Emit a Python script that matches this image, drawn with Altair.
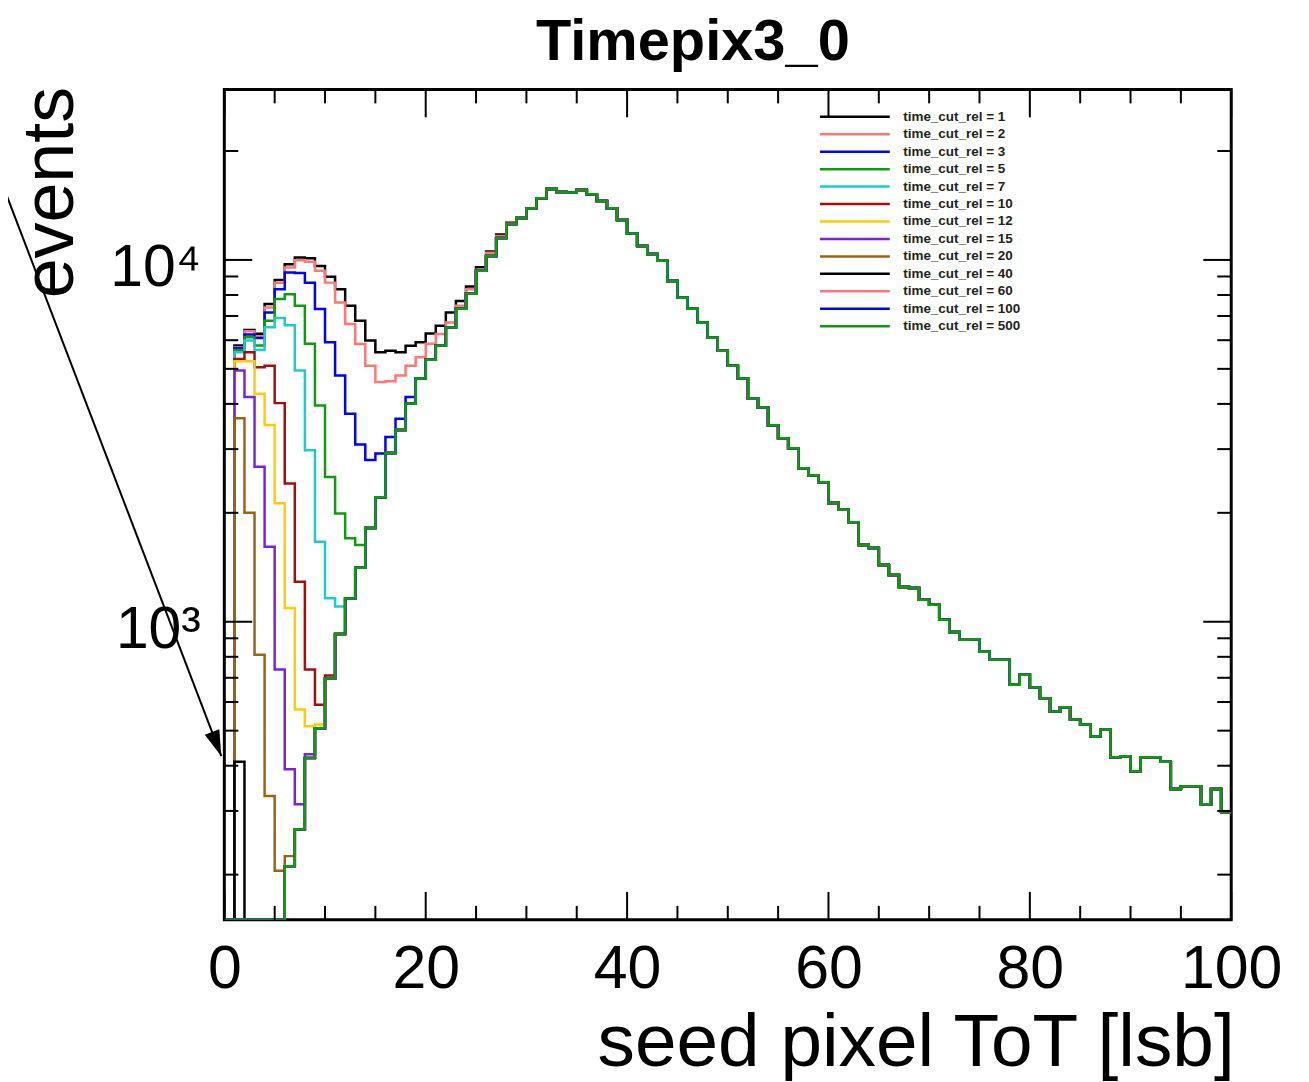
import altair as alt
import pandas as pd

FONT = "Liberation Sans"
W, H = 1010, 833

cut_labels = ["1", "2", "3", "5", "7", "10", "12", "15", "20", "40", "60", "100", "500"]
line_colors = ["#000000", "#ff7777", "#0000ff", "#109a10", "#1ccccc", "#a01010",
               "#ffcc00", "#7a22e0", "#9a6410", "#000000", "#ff7777", "#0000ff", "#109a10"]

# seed pixel ToT bins 0..99 (1 lsb wide) for the full spectrum (time_cut_rel = 500)
base_counts = [
    0, 0, 0, 0, 0, 0, 211, 267, 420, 508,
    697, 925, 1160, 1409, 1815, 2208, 2925, 3388, 4009, 4700,
    5300, 5800, 6500, 7330, 8060, 9330, 10260, 11500, 12560, 13060,
    13900, 14800, 15700, 15400, 15350, 15600, 15200, 14550, 13900, 12900,
    11830, 10930, 10380, 9940, 8750, 7860, 7330, 6700, 6090, 5610,
    5100, 4700, 4140, 3910, 3490, 3215, 3015, 2655, 2540, 2430,
    2130, 2040, 1885, 1630, 1600, 1436, 1347, 1248, 1240, 1150,
    1114, 1012, 937, 891, 895, 826, 785, 785, 670, 714,
    658, 615, 565, 580, 537, 520, 482, 504, 422, 425,
    386, 422, 422, 410, 345, 351, 351, 313, 345, 298,
]

# low-ToT bins (from bin 0) where a cut differs from the full spectrum
cut1_low = [0, 5800, 6400, 6250, 7550, 8800, 9730, 10150, 10100, 9625, 8980, 8300, 7465,
            6795, 5985, 5560, 5610, 5560, 5795, 5920, 6265, 6580, 7160, 7700, 8450, 9550,
            10550, 11750, 12700]
cut2_low = [0, 5735, 6350, 6150, 7390, 8650, 9525, 9980, 9890, 9330, 8655, 7625, 6655,
            5860, 5100, 4600, 4620, 4790, 5100, 5380, 5865, 6240, 6720, 7465, 8300, 9400,
            10470, 11650, 12680]
cut3_low = [0, 5710, 6220, 6080, 7160, 8300, 9225, 9200, 8650, 7315, 5920, 4790, 3760,
            3090, 2800, 2918, 3240, 3640, 4180]
cut5_low = [0, 5640, 6110, 5800, 6795, 7795, 8040, 7465, 5866, 3960, 2513, 1991, 1700, 1630]
cut7_low = [0, 5560, 5985, 5640, 6520, 6905, 6600, 4950, 2977, 1665, 1161, 1102]
cut10_low = [0, 5320, 5560, 5050, 5100, 4020, 2410, 1290, 738, 590, 710]
cut12_low = [0, 5250, 5250, 4265, 3500, 2124, 1092, 572, 514, 520]
cut15_low = [0, 4945, 4180, 2680, 1612, 738, 391, 313, 430]
cut20_low = [0, 3650, 2000, 811, 330, 205, 225]
cut40_low = [0, 410, 0, 0, 0, 0]
cut60_low = []
cut100_low = []
cut500_low = []

series_low = [cut1_low, cut2_low, cut3_low, cut5_low, cut7_low, cut10_low, cut12_low,
              cut15_low, cut20_low, cut40_low, cut60_low, cut100_low, cut500_low]

# axis ticks and labels
x_label_values = [0, 20, 40, 60, 80, 100]
x_minor_ticks = [5, 10, 15, 25, 30, 35, 45, 50, 55, 65, 70, 75, 85, 90, 95]
y_label_values = [1000, 10000]
y_minor_ticks = [200, 300, 400, 500, 600, 700, 800, 900,
                 2000, 3000, 4000, 5000, 6000, 7000, 8000, 9000, 20000]

# arrow annotation (start, tip) in data units
arrow_x = [-22.3, -0.3]
arrow_y = [16900, 425]

rows = []
for label, low in zip(cut_labels, series_low):
    vals = low + base_counts[len(low):]
    for k, v in enumerate(vals):
        rows.append({"tot": k, "ev": max(v, 1), "cut": label})
    rows.append({"tot": 100, "ev": max(vals[-1], 1), "cut": label})
df = pd.DataFrame(rows)

xscale = alt.Scale(domain=[0, 100], nice=False, zero=False)
yscale = alt.Scale(type="log", domain=[150, 29600], nice=False, clamp=True)

xaxis = alt.Axis(
    values=x_label_values, ticks=False, tickSize=0, domain=False, grid=False,
    labelFontSize=61, labelPadding=20, labelFlush=False, labelBound=False,
    labelOverlap=False,
    title="seed pixel ToT [lsb]", titleFontSize=75, titleFontWeight="normal",
    titleAnchor="end", titleAlign="right", titleBaseline="alphabetic",
    titleX=W + 3, titleY=146)
yaxis = alt.Axis(
    values=y_label_values,
    labelExpr="datum.value == 1000 ? '10\u00b3' : '10\u2074'",
    ticks=False, tickSize=0, domain=False, grid=False, labelOverlap=False,
    labelFontSize=59, labelPadding=24, labelBaseline="middle", labelOffset=8,
    title="events", titleFontSize=72, titleFontWeight="normal",
    titleAngle=270, titleAlign="right", titleBaseline="alphabetic",
    titleX=-152, titleY=-3)

lines = alt.Chart(df).mark_line(interpolate="step-after", strokeWidth=2.5, clip=True).encode(
    x=alt.X("tot:Q", scale=xscale, axis=xaxis),
    y=alt.Y("ev:Q", scale=yscale, axis=yaxis),
    color=alt.Color("cut:N", scale=alt.Scale(domain=cut_labels, range=line_colors),
                    sort=cut_labels,
                    legend=alt.Legend(
                        orient="none", legendX=624, legendY=19, title=None,
                        symbolType="M-5,0H5", symbolSize=196, symbolStrokeWidth=2.5,
                        labelExpr="'time_cut_rel = ' + datum.label",
                        labelFont=FONT, labelFontSize=13.5, labelFontWeight="bold",
                        labelColor="#222222", labelOffset=40, rowPadding=2.5,
                        symbolOffset=0, padding=0)),
)

ydf_minor = pd.DataFrame({"ev": y_minor_ticks})
ydf_major = pd.DataFrame({"ev": y_label_values})
xdf_minor = pd.DataFrame({"tot": x_minor_ticks})
xdf_major = pd.DataFrame({"tot": x_label_values})

def yticks(d, length):
    left = alt.Chart(d).mark_rule(color="black", strokeWidth=2).encode(
        y=alt.Y("ev:Q", scale=yscale, axis=yaxis), x=alt.value(0), x2=alt.value(length))
    right = alt.Chart(d).mark_rule(color="black", strokeWidth=2).encode(
        y=alt.Y("ev:Q", scale=yscale, axis=yaxis), x=alt.value(W - length), x2=alt.value(W))
    return [left, right]

def xticks(d, length):
    bottom = alt.Chart(d).mark_rule(color="black", strokeWidth=2).encode(
        x=alt.X("tot:Q", scale=xscale, axis=xaxis), y=alt.value(H - length), y2=alt.value(H))
    top = alt.Chart(d).mark_rule(color="black", strokeWidth=2).encode(
        x=alt.X("tot:Q", scale=xscale, axis=xaxis), y=alt.value(0), y2=alt.value(length))
    return [bottom, top]

arrow_df = pd.DataFrame({"tot": arrow_x, "ev": arrow_y})
arrow_line = alt.Chart(arrow_df).mark_line(color="black", strokeWidth=2, clip=False).encode(
    x=alt.X("tot:Q", scale=xscale, axis=xaxis), y=alt.Y("ev:Q", scale=yscale, axis=yaxis))
arrow_head = alt.Chart(arrow_df.tail(1)).mark_point(
    shape="M0,0L-2,-0.6L-2,0.6Z", filled=True, color="black", opacity=1,
    size=676, angle=69.1, clip=False).encode(
    x=alt.X("tot:Q", scale=xscale, axis=xaxis), y=alt.Y("ev:Q", scale=yscale, axis=yaxis))

layers = [lines] + yticks(ydf_minor, 14) + yticks(ydf_major, 28) \
    + xticks(xdf_minor, 14) + xticks(xdf_major, 28) + [arrow_line, arrow_head]

chart = alt.layer(*layers).properties(
    width=W, height=H, background="white",
    title=alt.TitleParams("Timepix3_0", font=FONT, fontSize=58, fontWeight="bold",
                          anchor="middle", frame="group", dx=-35, offset=14,
                          color="black"),
    autosize=alt.AutoSizeParams(type="none"),
    padding={"left": 217, "top": 80, "right": 70, "bottom": 160},
).configure_view(stroke="black", strokeWidth=3).configure_axis(
    labelFont=FONT, titleFont=FONT, labelColor="black", titleColor="black"
)

chart.save("out.html", embed_options={"renderer": "svg", "actions": False})
